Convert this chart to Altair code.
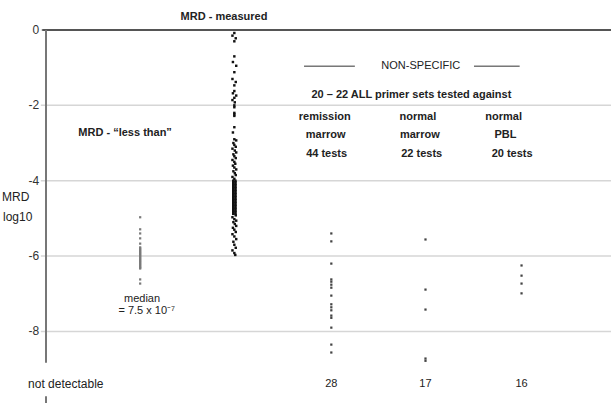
import altair as alt
import pandas as pd

# Column positions along the x axis
COL_LESS, COL_MEAS, COL_REM, COL_NMAR, COL_PBL = 1.0, 2.0, 3.03, 4.03, 5.05
X_MIN, X_MAX = 0, 6

# MRD "less than" results (log10)
less_than = [-4.97, -5.29, -5.40, -5.53, -5.67,
             -5.77, -5.80, -5.83, -5.86, -5.89, -5.92, -5.95, -5.98, -6.01,
             -6.04, -6.07, -6.10, -6.13, -6.16, -6.19, -6.22, -6.25, -6.28,
             -6.31, -6.33, -6.62, -6.73]

# MRD measured results (log10, small horizontal offset)
measured = [
    (-0.08, 0.0), (-0.15, -0.02), (-0.22, 0.015), (-0.30, 0.0), (-0.70, 0.0),
    (-0.85, -0.015), (-0.95, 0.02), (-1.12, 0.0), (-1.30, -0.02), (-1.38, 0.015),
    (-1.47, 0.0), (-1.62, 0.0), (-1.68, -0.015), (-1.74, 0.02), (-1.80, 0.0),
    (-1.86, -0.02), (-1.92, 0.005), (-2.00, 0.0), (-2.05, 0.0), (-2.20, 0.0),
    (-2.24, 0.0), (-2.28, 0.0), (-2.58, 0.0), (-2.72, -0.015), (-2.90, 0.0),
    (-2.93, 0.02), (-3.00, -0.01), (-3.05, 0.0), (-3.10, 0.015), (-3.15, -0.02),
    (-3.20, 0.005), (-3.25, 0.02), (-3.30, -0.01), (-3.35, 0.0), (-3.40, 0.015),
    (-3.45, -0.02), (-3.50, 0.0), (-3.55, 0.01), (-3.60, -0.015), (-3.65, 0.0),
    (-3.70, 0.02), (-3.75, -0.01), (-3.80, 0.005), (-3.85, 0.015), (-3.90, -0.02),
    (-3.95, 0.0),
    (-4.00, -0.012), (-4.00, 0.012), (-4.04, -0.012), (-4.04, 0.012),
    (-4.08, -0.012), (-4.08, 0.012), (-4.12, -0.012), (-4.12, 0.012),
    (-4.16, -0.012), (-4.16, 0.012), (-4.20, -0.012), (-4.20, 0.012),
    (-4.24, -0.012), (-4.24, 0.012), (-4.28, -0.012), (-4.28, 0.012),
    (-4.32, -0.012), (-4.32, 0.012), (-4.36, -0.012), (-4.36, 0.012),
    (-4.40, -0.012), (-4.40, 0.012), (-4.44, -0.012), (-4.44, 0.012),
    (-4.48, -0.012), (-4.48, 0.012), (-4.52, -0.012), (-4.52, 0.012),
    (-4.56, -0.012), (-4.56, 0.012), (-4.60, -0.012), (-4.60, 0.012),
    (-4.64, -0.012), (-4.64, 0.012), (-4.68, -0.012), (-4.68, 0.012),
    (-4.72, -0.012), (-4.72, 0.012), (-4.76, -0.012), (-4.76, 0.012),
    (-4.80, -0.012), (-4.80, 0.012), (-4.84, -0.012), (-4.84, 0.012),
    (-4.88, -0.012), (-4.88, 0.012),
    (-4.92, 0.015), (-4.97, -0.02), (-5.02, 0.0), (-5.06, 0.02), (-5.10, -0.01),
    (-5.15, 0.005), (-5.20, 0.02), (-5.25, -0.015), (-5.30, 0.0), (-5.36, 0.015),
    (-5.42, -0.02), (-5.48, 0.0), (-5.55, 0.02), (-5.62, -0.01), (-5.70, 0.0),
    (-5.78, 0.015), (-5.85, -0.02), (-5.92, 0.0), (-5.97, 0.01),
]

# Non-specific detections (log10)
remission_marrow = [-5.40, -5.61, -6.20, -6.62, -6.68, -6.76, -6.84, -7.05,
                    -7.28, -7.36, -7.44, -7.58, -7.64, -7.90, -8.35, -8.56]
normal_marrow = [-5.56, -6.89, -7.42, -8.72, -8.78]
normal_pbl = [-6.25, -6.52, -6.73, -6.99]

# Tests with no detectable signal
not_detectable_counts = [("28", COL_REM), ("17", COL_NMAR), ("16", COL_PBL)]

# Y gridlines and their labels
Y_TICKS = [0, -2, -4, -6, -8]
Y_TICK_LABELS = ["0", "-2", "-4", "-6", "-8"]
Y_MIN, Y_MAX = -9.9, 0
NOT_DET_Y = -9.4

FONT = "Liberation Sans"

meas_df = pd.DataFrame({
    "x": [COL_MEAS + dx for _, dx in measured],
    "y": [v for v, _ in measured],
})
less_df = pd.DataFrame({"x": [COL_LESS] * len(less_than), "y": less_than})
nonspec_df = pd.DataFrame({
    "x": [COL_REM] * len(remission_marrow) + [COL_NMAR] * len(normal_marrow)
         + [COL_PBL] * len(normal_pbl),
    "y": remission_marrow + normal_marrow + normal_pbl,
})

xs = alt.Scale(domain=[X_MIN, X_MAX], nice=False, zero=False)
ys = alt.Scale(domain=[Y_MIN, Y_MAX], nice=False, zero=False)


def px(field="x"):
    return alt.X(f"{field}:Q", scale=xs, axis=None)


def py(field="y"):
    return alt.Y(f"{field}:Q", scale=ys, axis=None)


# Gridlines (with a short stub left of the vertical axis) and tick labels
grid_df = pd.DataFrame({"x": [-0.055] * len(Y_TICKS), "x2": [X_MAX] * len(Y_TICKS),
                        "y": Y_TICKS})
grid = alt.Chart(grid_df).mark_rule(color="#d6d6d6", strokeWidth=1.5).encode(
    x=px(), x2="x2:Q", y=py())
tick_label_df = pd.DataFrame({"x": [-0.072] * len(Y_TICKS), "y": Y_TICKS,
                              "label": Y_TICK_LABELS})
tick_labels = alt.Chart(tick_label_df).mark_text(
    font=FONT, fontSize=12, color="#333333", align="right", baseline="middle"
).encode(x=px(), y=py(), text="label:N")

measured_layer = alt.Chart(meas_df).mark_square(size=6, color="#111111", opacity=1).encode(
    x=px(), y=py())
less_layer = alt.Chart(less_df).mark_square(size=5, color="#7a7a7a", opacity=1).encode(
    x=px(), y=py())
nonspec_layer = alt.Chart(nonspec_df).mark_square(size=5, color="#444444", opacity=1).encode(
    x=px(), y=py())

# Frame lines: top edge at 0, vertical axis broken around the "not detectable" row
top_df = pd.DataFrame({"x": [-0.04], "x2": [X_MAX], "y": [Y_MAX]})
top_line = alt.Chart(top_df).mark_rule(color="#555555", strokeWidth=2).encode(
    x=px(), x2="x2:Q", y=py())
axis_line_df = pd.DataFrame({"x": [0, 0], "y": [0, -9.72], "y2": [-8.83, Y_MIN]})
axis_line = alt.Chart(axis_line_df).mark_rule(color="#777777", strokeWidth=2).encode(
    x=px(), y=py(), y2="y2:Q")

# Dashes either side of NON-SPECIFIC
dash_df = pd.DataFrame({"x": [2.74, 4.545], "x2": [3.28, 5.03], "y": [-0.96, -0.96]})
dashes = alt.Chart(dash_df).mark_rule(color="#333333", strokeWidth=1).encode(
    x=px(), x2="x2:Q", y=py())

bold_text = pd.DataFrame([
    ("MRD - measured", 1.89, 0.35),
    ("MRD - \u201cless than\u201d", 0.84, -2.74),
    ("20 \u2013 22 ALL primer sets tested against", 3.88, -1.73),
    ("remission", 2.96, -2.31), ("marrow", 2.97, -2.79), ("44 tests", 2.98, -3.30),
    ("normal", 3.95, -2.31), ("marrow", 3.97, -2.79), ("22 tests", 3.99, -3.30),
    ("normal", 4.86, -2.31), ("PBL", 4.88, -2.79), ("20 tests", 4.95, -3.30),
], columns=["label", "x", "y"])

normal_text = pd.DataFrame([
    ("NON-SPECIFIC", 3.98, -0.96),
    ("median", 1.02, -7.13),
    ("= 7.5 x 10\u207b\u2077", 1.07, -7.45),
] + [(t, c, NOT_DET_Y) for t, c in not_detectable_counts],
    columns=["label", "x", "y"])

left_text = pd.DataFrame([
    ("MRD", -0.467, -4.44),
    ("log10", -0.457, -4.97),
    ("not detectable", -0.19, NOT_DET_Y),
], columns=["label", "x", "y"])

bold_layer = alt.Chart(bold_text).mark_text(
    font=FONT, fontSize=11, fontWeight="bold", color="#222222",
    align="center", baseline="middle").encode(x=px(), y=py(), text="label:N")
normal_layer = alt.Chart(normal_text).mark_text(
    font=FONT, fontSize=11, color="#222222",
    align="center", baseline="middle").encode(x=px(), y=py(), text="label:N")
left_layer = alt.Chart(left_text).mark_text(
    font=FONT, fontSize=12, color="#222222",
    align="left", baseline="middle").encode(x=px(), y=py(), text="label:N")

chart = alt.layer(
    grid, tick_labels,
    measured_layer, less_layer, nonspec_layer, top_line, axis_line, dashes,
    bold_layer, normal_layer, left_layer,
).properties(
    width=565, height=373,
    autosize=alt.AutoSizeParams(type="none"),
    padding={"left": 46, "top": 30, "right": 0, "bottom": 1},
    background="white",
).configure_view(strokeWidth=0, stroke="transparent")

chart.save("out.html", embed_options={"renderer": "svg", "actions": False})
